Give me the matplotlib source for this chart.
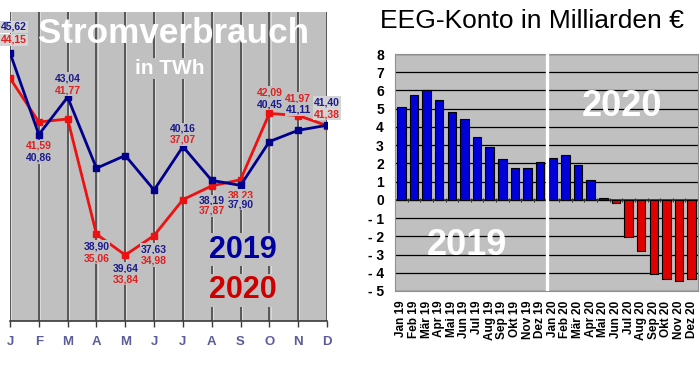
import numpy as np
import matplotlib
matplotlib.use('Agg')
import matplotlib.pyplot as plt

plt.rcParams['font.family'] = ['Liberation Sans', 'DejaVu Sans']

# Stromverbrauch in TWh
months = ['J', 'F', 'M', 'A', 'M', 'J', 'J', 'A', 'S', 'O', 'N', 'D']
strom_2019 = [45.62, 40.86, 43.04, 38.90, 39.64, 37.63, 40.16, 38.19, 37.90, 40.45, 41.11, 41.40]
strom_2020 = [44.15, 41.59, 41.77, 35.06, 33.84, 34.98, 37.07, 37.87, 38.23, 42.09, 41.97, 41.38]

# EEG-Konto in Milliarden Euro
konto_labels = ['Jan 19', 'Feb 19', 'Mär 19', 'Apr 19', 'Mai 19', 'Jun 19', 'Jul 19', 'Aug 19',
                'Sep 19', 'Okt 19', 'Nov 19', 'Dez 19',
                'Jan 20', 'Feb 20', 'Mär 20', 'Apr 20', 'Mai 20', 'Jun 20', 'Jul 20', 'Aug 20',
                'Sep 20', 'Okt 20', 'Nov 20', 'Dez 20']
konto = [5.1, 5.73, 6.0, 5.46, 4.8, 4.44, 3.47, 2.92, 2.23, 1.75, 1.74, 2.07,
         2.28, 2.47, 1.92, 1.1, 0.1, -0.16, -2.05, -2.81, -4.07, -4.33, -4.46, -4.35]

BG = '#c0c0c0'
BLUE = '#00008c'
RED = '#ee1111'


def fmt(v):
    return ('%.2f' % v).replace('.', ',')


fig = plt.figure(figsize=(7, 3.65), dpi=100)

# ---------- left: Stromverbrauch ----------
ax = fig.add_axes([10 / 700, 44 / 365, 317 / 700, 309 / 365])
ax.set_facecolor(BG)
x = np.arange(len(months))
for xi in x:
    ax.axvline(xi, color='#3a3a3a', lw=1.1, zorder=1)
    ax.axvline(xi + 0.04, color='#e0e0e0', lw=0.6, zorder=1)
ax.plot(x, strom_2019, color=BLUE, lw=2, marker='s', ms=4.5, zorder=4)
ax.plot(x, strom_2020, color=RED, lw=2, marker='s', ms=4.5, zorder=3)
ax.set_xlim(0, 11)
ax.set_ylim(30, 48)
ax.set_yticks([])
ax.set_xticks(x)
ax.set_xticklabels(months, color='#5c5c9c', fontsize=9.5, fontweight='bold')
ax.tick_params(axis='x', length=4, width=1, color='#3a3a3a', pad=7)
for s in ['top', 'right', 'left']:
    ax.spines[s].set_visible(False)
ax.spines['bottom'].set_color('#3a3a3a')
ax.spines['bottom'].set_linewidth(1.2)

# (anchor series, first label series, pixel offset first, pixel offset second)
label_spec = [
    (0, 0, -26, -13), (0, 1, 11, 23), (0, 0, -19, -7), (1, 0, 12, 24),
    (1, 0, 13, 24), (1, 0, 14, 25), (0, 0, -18, -7), (1, 0, 15, 25),
    (0, 1, 10, 19), (1, 1, -21, -9), (1, 1, -17, -6), (0, 0, -23, -11),
]
series = [strom_2019, strom_2020]
colors = ['#1a1a8c', '#e02020']
for i, (anc, first, o1, o2) in enumerate(label_spec):
    second = 1 - first
    dx = 4 if i == 0 else 0
    box = '#d4d4d4' if i in (0, 11) else BG
    for s_idx, off in ((first, o1), (second, o2)):
        ax.annotate(fmt(series[s_idx][i]), (x[i], series[anc][i]), xytext=(dx, -off),
                    textcoords='offset pixels', ha='center', va='center',
                    fontsize=7.5, fontweight='bold', color=colors[s_idx], zorder=6,
                    annotation_clip=False,
                    bbox=dict(boxstyle='square,pad=0.1', fc=box, ec='none'))

ax.text(0.517, 0.932, 'Stromverbrauch', transform=ax.transAxes, ha='center', va='center',
        color='white', fontsize=25.3, fontweight='bold', zorder=5)
ax.text(0.505, 0.816, 'in TWh', transform=ax.transAxes, ha='center', va='center',
        color='white', fontsize=15, fontweight='bold', zorder=5,
        bbox=dict(boxstyle='square,pad=0.05', fc=BG, ec='none'))
ax.text(0.735, 0.23, '2019', transform=ax.transAxes, ha='center', va='center',
        color='#0000a0', fontsize=22, fontweight='bold', zorder=5,
        bbox=dict(boxstyle='square,pad=0.05', fc=BG, ec='none'))
ax.text(0.735, 0.10, '2020', transform=ax.transAxes, ha='center', va='center',
        color='#cc0000', fontsize=22, fontweight='bold', zorder=5,
        bbox=dict(boxstyle='square,pad=0.05', fc=BG, ec='none'))

# ---------- right: EEG-Konto ----------
ax2 = fig.add_axes([395 / 700, 74 / 365, 303 / 700, 237 / 365])
ax2.set_facecolor(BG)
xb = np.arange(len(konto))
bar_colors = ['#0000d8' if v >= 0 else '#e00000' for v in konto]
ax2.bar(xb, konto, width=0.68, color=bar_colors, edgecolor='black', lw=0.8, zorder=3)
ax2.set_xlim(-0.5, len(konto) - 0.5)
ax2.set_ylim(-5, 8)
yt = list(range(-5, 9))
ax2.set_yticks(yt)
ax2.set_yticklabels([str(v) if v >= 0 else '- %d' % -v for v in yt],
                    fontsize=10, fontweight='bold')
ax2.tick_params(axis='y', length=0, pad=8)
ax2.yaxis.grid(True, color='black', lw=0.9, zorder=1)
ax2.axhline(0, color='#303030', lw=1.2, zorder=2)
ax2.vlines(xb[1:] - 0.5, -0.12, 0.12, color='#303030', lw=0.8, zorder=2)
ax2.set_xticks(xb)
ax2.set_xticklabels(konto_labels, rotation=90, fontsize=8.5, fontweight='bold')
ax2.tick_params(axis='x', length=0, pad=7)
ax2.axvline(11.5, color='white', lw=2.4, zorder=4)
for s in ax2.spines.values():
    s.set_color('#909090')
ax2.text(0.238, 0.19, '2019', transform=ax2.transAxes, ha='center', va='center',
         color='white', fontsize=26, fontweight='bold', zorder=5)
ax2.text(0.749, 0.78, '2020', transform=ax2.transAxes, ha='center', va='center',
         color='white', fontsize=26, fontweight='bold', zorder=5)

fig.text(531.5 / 700, 1 - 21 / 365, 'EEG-Konto in Milliarden €', ha='center', va='center',
         fontsize=19, color='black')

fig.savefig('out.png', dpi=100)
